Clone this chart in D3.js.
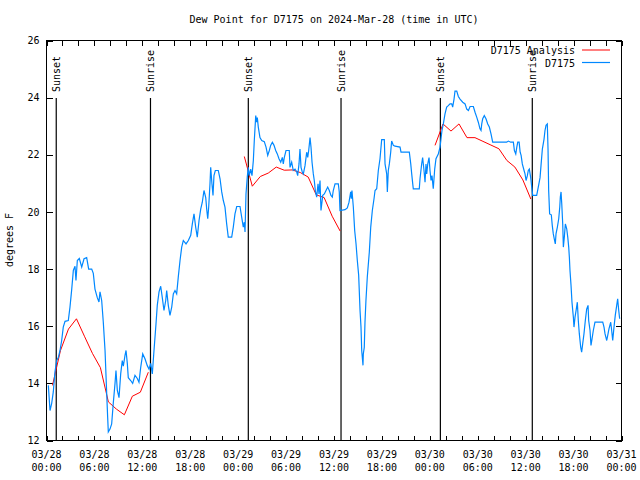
<!DOCTYPE html>
<html>
<head>
<meta charset="utf-8">
<script src="https://cdn.jsdelivr.net/npm/d3@7"></script>
<style>
  body { margin: 0; background: #fff; }
  svg { display: block; }
  text { font-family: "DejaVu Sans Mono", "Liberation Mono", monospace; font-size: 10px; fill: #000; }
</style>
</head>
<body>
<svg id="chart" width="640" height="480"></svg>
<script>
// ---------- DATA ----------
const title = "Dew Point for D7175 on 2024-Mar-28 (time in UTC)";
const yLabel = "degrees F";
const startISO = "2024-03-28T00:00:00Z";
const yTicks = [12, 14, 16, 18, 20, 22, 24, 26];
const seriesNames = ["D7175 Analysis", "D7175"];

// observation times in hours after 2024-03-28 00:00 UTC
const obsHours = [0.23,0.44,0.65,0.85,1.06,1.28,1.48,1.69,1.9,2.1,2.32,2.73,2.94,3.16,3.36,3.57,3.69,3.86,4.11,4.41,4.7,5.03,5.28,5.66,5.86,6.07,6.36,6.57,6.7,6.91,7.11,7.33,7.54,7.66,7.74,7.95,8.16,8.36,8.58,8.7,8.87,9.08,9.29,9.49,9.62,9.83,9.96,10.12,10.24,10.54,10.79,11.08,11.37,11.58,11.8,12.05,12.33,12.62,12.84,13.05,13.25,13.46,13.71,13.87,14.09,14.3,14.5,14.71,14.93,15.05,15.25,15.46,15.68,15.88,16.09,16.3,16.5,16.72,16.93,17.13,17.47,17.76,18.06,18.26,18.47,18.68,18.88,19.1,19.31,19.51,19.72,19.94,20.06,20.19,20.31,20.47,20.56,20.72,20.85,20.97,21.14,21.51,21.73,21.94,22.14,22.35,22.56,22.76,23.19,23.39,23.6,23.82,24.23,24.44,24.64,24.77,24.86,24.98,25.14,25.27,25.39,25.57,25.73,25.9,26.02,26.2,26.32,26.4,26.52,26.73,26.95,27.27,27.49,27.7,27.9,28.07,28.28,28.49,28.7,28.9,29.11,29.33,29.53,29.65,29.78,29.99,30.4,30.49,30.7,30.9,31.12,31.33,31.45,31.62,31.74,31.87,32.03,32.16,32.37,32.58,32.71,32.83,33.0,33.12,33.25,33.41,33.53,33.66,33.83,34.0,34.12,34.25,34.37,34.59,34.79,35.0,35.21,35.41,35.62,35.79,35.91,36.13,36.54,36.66,36.75,37.38,37.67,37.88,38.09,38.17,38.25,38.42,38.59,38.76,38.92,39.09,39.26,39.38,39.47,39.54,39.63,39.67,39.79,39.88,40.0,40.17,40.42,40.6,40.8,41.01,41.14,41.35,41.55,41.76,41.97,42.3,42.39,42.6,42.68,42.8,42.93,43.1,43.22,43.43,43.64,44.27,44.39,45.43,45.61,45.73,45.86,45.93,46.68,46.77,46.98,47.1,47.27,47.4,47.52,47.61,47.74,47.9,48.02,48.15,48.27,48.43,48.61,48.77,49.06,49.28,49.4,49.52,49.69,49.9,50.11,50.31,50.53,50.74,50.86,51.03,51.15,51.37,51.57,51.78,52.12,52.41,52.62,52.83,53.04,53.45,53.66,53.87,54.07,54.28,54.41,54.5,54.62,54.82,55.03,55.25,55.45,55.66,55.87,56.57,57.62,57.83,58.13,58.46,58.59,58.76,58.89,59.01,59.18,59.31,59.43,59.58,59.8,59.92,60.05,60.21,60.33,60.46,60.63,60.76,60.88,61.38,61.58,61.8,61.92,62.09,62.3,62.42,62.55,62.71,62.8,62.88,63.0,63.21,63.33,63.46,63.58,63.71,63.8,63.97,64.14,64.27,64.34,64.43,64.52,64.64,64.72,64.84,64.97,65.14,65.27,65.39,65.47,65.55,65.68,65.8,65.97,66.05,66.18,66.34,66.47,66.59,66.72,66.89,67.01,67.14,67.3,67.47,67.64,67.81,67.89,68.06,68.18,68.31,68.47,68.68,69.65,69.81,69.94,70.15,70.27,70.43,70.65,70.77,70.9,71.06,71.22,71.4,71.52,71.65,71.77];
const obsDewpt = [13.93,13.05,13.3,13.7,14.4,14.8,14.9,15.15,15.5,15.97,16.17,16.2,16.67,17.3,17.95,18.1,17.6,18.3,18.37,18.07,18.36,18.4,18.0,18.0,17.85,17.3,17.0,16.85,17.2,16.9,16.15,15.15,13.63,12.8,12.3,12.4,12.58,13.3,14.0,14.45,13.75,13.5,14.33,14.8,14.6,14.98,15.15,14.7,14.2,14.1,14.0,14.28,14.17,14.04,14.57,15.03,14.86,14.62,14.5,14.7,14.33,15.15,16.08,16.73,17.2,17.4,17.0,16.55,16.9,17.25,16.73,16.38,16.67,17.13,17.25,17.13,17.72,18.3,18.77,19.0,18.88,19.0,19.18,19.58,19.93,19.47,19.12,19.7,20.1,20.34,20.75,20.5,20.1,19.76,20.17,20.98,21.56,20.98,20.58,21.27,21.45,21.45,21.16,20.7,20.4,20.17,19.58,19.12,19.12,19.47,19.93,20.19,20.19,19.82,19.47,19.64,19.3,20.63,21.22,21.56,21.27,21.5,21.27,21.8,22.5,23.37,23.14,23.3,22.97,22.6,22.5,22.46,22.27,21.98,22.15,22.33,22.44,22.33,22.15,22.03,21.86,21.74,21.91,21.68,21.91,22.15,22.15,21.56,21.74,21.45,21.5,21.4,21.27,21.68,22.2,21.56,21.4,21.33,21.62,22.09,21.91,22.15,22.6,22.27,21.74,21.33,21.1,20.75,20.52,20.98,20.63,21.1,20.05,20.58,20.63,20.75,20.87,20.75,20.58,20.52,20.75,20.98,20.98,20.7,20.05,20.08,20.14,20.34,20.7,20.46,20.75,20.17,19.35,18.88,18.3,17.78,16.55,15.97,15.15,14.92,14.63,15.03,15.26,16.14,16.9,17.72,18.59,19.47,20.05,20.46,20.75,20.81,21.45,21.86,22.53,22.53,21.68,21.33,20.7,21.45,21.68,22.09,22.48,22.33,22.3,22.27,22.09,22.09,21.68,21.33,20.98,20.81,20.81,21.16,21.68,21.9,21.45,21.04,21.68,21.33,21.68,21.9,21.45,21.1,21.27,20.81,21.5,21.86,22.03,22.27,22.56,22.85,23.08,23.43,23.67,23.72,23.78,23.78,23.67,23.95,24.23,24.23,24.04,23.95,23.84,23.78,23.6,23.55,23.69,23.69,23.49,23.32,23.14,22.91,22.85,23.08,23.26,23.37,23.26,23.08,22.97,22.73,22.44,22.44,22.44,22.48,22.44,22.44,22.15,22.03,22.27,22.44,22.44,22.09,21.98,21.68,21.45,21.33,21.1,21.27,21.45,21.5,21.2,20.87,20.58,20.58,20.87,21.2,21.62,22.2,22.55,22.85,23.03,23.08,22.2,20.75,19.93,19.9,19.53,19.23,19.06,18.88,19.23,19.47,19.76,20.17,20.52,20.7,20.28,19.58,18.77,19.12,19.58,19.41,19.12,18.77,18.42,17.95,17.43,16.84,16.32,15.97,16.32,16.6,16.84,16.2,15.73,15.27,15.09,15.38,15.73,16.2,16.6,16.73,16.2,15.85,15.33,15.56,15.85,16.14,16.14,15.97,15.73,15.5,15.67,15.91,16.14,15.85,15.5,15.97,16.38,16.73,16.96,16.56,16.26];

// analysis (hourly, night-time only; null = gap)
const anaHours = [0.75,1.75,2.75,3.75,4.75,5.75,6.75,7.75,8.75,9.75,10.75,11.75,12.75, 18,
                  24.77,25.77,26.77,27.77,28.77,29.77,30.77,31.77,32.77,33.77,34.77,35.77,36.77, 42,
                  48.65,49.65,50.65,51.65,52.65,53.65,54.65,55.65,56.65,57.65,58.65,59.65,60.65];
const anaDewpt = [13.93,15.15,15.9,16.26,15.65,15.05,14.55,13.35,13.1,12.9,13.55,13.69,14.39, null,
                  21.94,20.9,21.24,21.36,21.57,21.46,21.47,21.38,21.22,20.6,20.5,19.85,19.33, null,
                  22.33,23.08,22.83,23.08,22.6,22.6,22.47,22.34,22.21,21.8,21.57,21.12,20.45];

// sun events (hours after start)
const sunsetHours = [1.22, 25.27, 49.32];
const sunriseHours = [13.02, 36.88, 60.83];

// ---------- CHART ----------
const start = new Date(startISO);
const toDate = h => new Date(start.getTime() + h * 3600e3);

const svg = d3.select("#chart");
const L = 46.5, R = 621.5, T = 40.5, B = 440.5;

const x = d3.scaleUtc().domain([toDate(0), toDate(72)]).range([L, R]);
const y = d3.scaleLinear().domain([12, 26]).range([B, T]);

// title
svg.append("text").attr("x", 334).attr("y", 23).attr("text-anchor", "middle").text(title);

// y label
svg.append("text").attr("transform", "translate(13,240) rotate(-90)")
  .attr("text-anchor", "middle").text(yLabel);

// axes
const fmtDay = d3.utcFormat("%m/%d"), fmtHr = d3.utcFormat("%H:%M");
const tickDates = d3.range(0, 73, 2).map(toDate);

const yl = svg.append("g").attr("transform", `translate(${L},0)`)
  .call(d3.axisLeft(y).tickValues(yTicks).tickSizeInner(-6).tickSizeOuter(0).tickPadding(7).tickFormat(d3.format("d")));
const yr = svg.append("g").attr("transform", `translate(${R},0)`)
  .call(d3.axisRight(y).tickValues(yTicks).tickSizeInner(-6).tickSizeOuter(0).tickFormat(""));
const xb = svg.append("g").attr("transform", `translate(0,${B})`)
  .call(d3.axisBottom(x).tickValues(tickDates).tickSizeInner(-5).tickSizeOuter(0).tickFormat(""));
const xt = svg.append("g").attr("transform", `translate(0,${T})`)
  .call(d3.axisTop(x).tickValues(tickDates).tickSizeInner(-5).tickSizeOuter(0).tickFormat(""));

[yl, yr, xb, xt].forEach(g => {
  g.select(".domain").remove();
  g.attr("font-family", null).attr("font-size", null);
  g.selectAll("line").attr("stroke", "#000").attr("shape-rendering", "crispEdges");
  g.selectAll("text").attr("fill", "#000");
});

// x labels (two lines) at every 6 h
const labelDates = d3.range(0, 73, 6).map(toDate);
const xl = svg.append("g");
labelDates.forEach(d => {
  const t = xl.append("text").attr("text-anchor", "middle");
  t.append("tspan").attr("x", x(d)).attr("y", B + 17).text(fmtDay(d));
  t.append("tspan").attr("x", x(d)).attr("y", B + 30).text(fmtHr(d));
});

// frame
svg.append("rect").attr("x", L).attr("y", T).attr("width", R - L).attr("height", B - T)
  .attr("fill", "none").attr("stroke", "#000").attr("shape-rendering", "crispEdges");

// sun lines
const sun = [...sunsetHours.map(h => ({h, label: "Sunset"})), ...sunriseHours.map(h => ({h, label: "Sunrise"}))];
sun.forEach(s => {
  const sx = x(toDate(s.h));
  svg.append("line").attr("x1", sx).attr("x2", sx).attr("y1", 98).attr("y2", B)
    .attr("stroke", "#000").attr("stroke-width", 1.2);
  svg.append("text").attr("transform", `translate(${sx + 3.5},92) rotate(-90)`)
    .attr("text-anchor", "start").text(s.label);
});

// lines
const anaData = anaHours.map((h, i) => ({t: toDate(h), v: anaDewpt[i]}));
const obsData = obsHours.map((h, i) => ({t: toDate(h), v: obsDewpt[i]}));
const line = d3.line().defined(d => d.v != null).x(d => x(d.t)).y(d => y(d.v));

svg.append("path").datum(anaData).attr("d", line)
  .attr("fill", "none").attr("stroke", "#ff0000").attr("stroke-width", 1);
svg.append("path").datum(obsData).attr("d", line)
  .attr("fill", "none").attr("stroke", "#0088ff").attr("stroke-width", 1.2);

// legend
const legColors = ["#ff0000", "#0088ff"];
seriesNames.forEach((n, i) => {
  const ly = 50 + i * 12.5;
  svg.append("text").attr("x", 575).attr("y", ly + 4).attr("text-anchor", "end").text(n);
  svg.append("line").attr("x1", 582).attr("x2", 610).attr("y1", ly).attr("y2", ly)
    .attr("stroke", legColors[i]).attr("stroke-width", i ? 1.2 : 1);
});
</script>
</body>
</html>
